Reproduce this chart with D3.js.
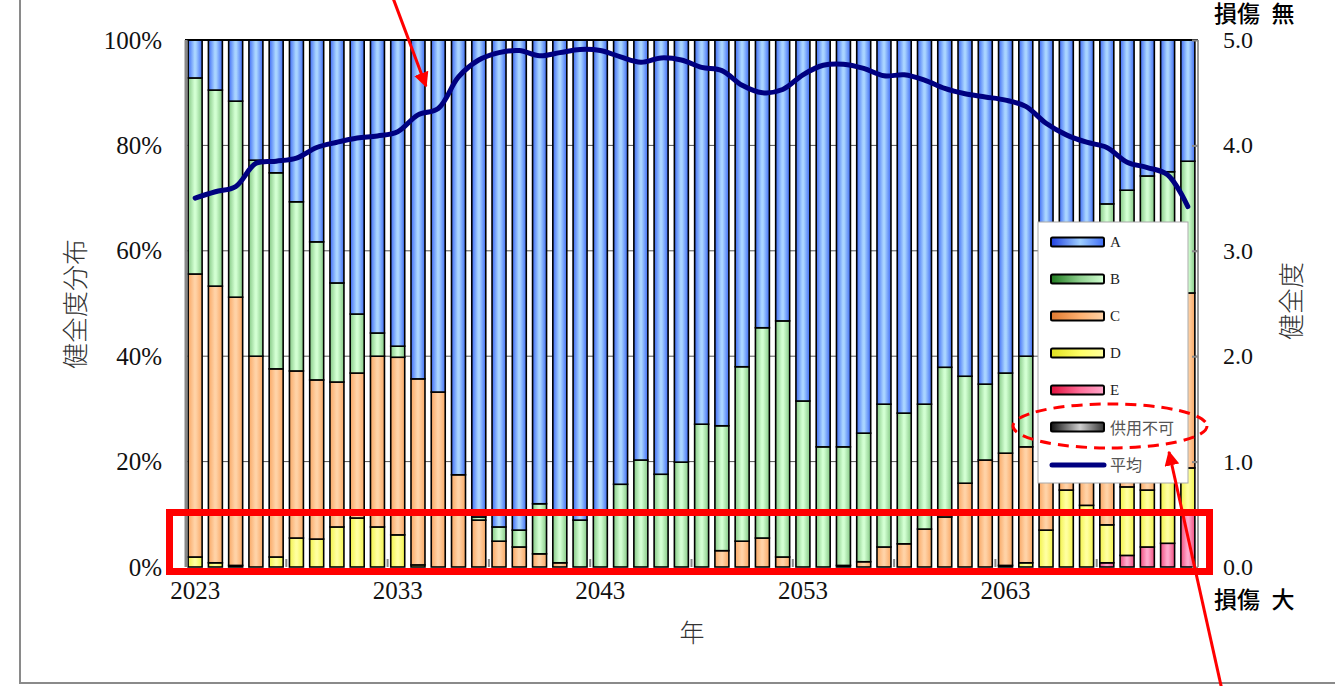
<!DOCTYPE html>
<html>
<head>
<meta charset="UTF-8">
<script src="https://cdn.jsdelivr.net/npm/d3@7"></script>
<style>
  body { margin: 0; background: #fff; }
  svg { display: block; }
</style>
</head>
<body>
<div id="chart"></div>
<script>
// ---- data (percent of bridges per health grade, bottom grades first in stack) ----
const years = d3.range(2023, 2073)
const seriesA = [7.2, 9.5, 11.6, 22.8, 25.2, 30.7, 38.3, 46.1, 52.0, 55.6, 58.1, 64.3, 66.8, 82.5, 90.5, 92.4, 93.0, 88.0, 89.2, 91.1,
                 90.0, 84.3, 79.7, 82.4, 80.1, 72.9, 73.2, 62.0, 54.6, 53.3, 68.5, 77.2, 77.2, 74.6, 69.1, 70.8, 69.1, 62.1, 63.8, 65.3,
                 63.2, 60.0, 52.0, 48.6, 39.7, 31.1, 28.5, 25.8, 25.0, 23.0]
const seriesB = [37.2, 37.2, 37.2, 37.2, 37.2, 32.1, 26.2, 18.8, 11.2, 4.4, 2.1, 0, 0, 0, 0.6, 2.7, 3.2, 9.5, 10.0, 8.9,
                 10.0, 15.7, 20.3, 17.6, 19.9, 27.1, 23.7, 33.1, 39.9, 44.8, 31.5, 22.8, 22.5, 24.4, 27.1, 24.8, 23.7, 28.4, 20.3, 14.4,
                 15.2, 17.2, 24.0, 27.4, 35.3, 44.6, 44.4, 45.8, 44.5, 25.0]
const seriesC = [53.7, 52.5, 50.9, 40.0, 35.7, 31.7, 30.2, 27.5, 27.5, 32.4, 33.7, 35.3, 33.2, 17.5, 8.9, 4.9, 3.8, 2.5, 0.8, 0,
                 0, 0, 0, 0, 0, 0, 3.1, 4.9, 5.5, 1.9, 0, 0, 0.3, 1.0, 3.8, 4.4, 7.2, 9.5, 15.9, 20.3,
                 21.3, 22.0, 17.0, 9.4, 13.3, 16.3, 11.9, 13.8, 12.5, 33.2]
const seriesD = [1.9, 0.8, 0.3, 0, 1.9, 5.5, 5.3, 7.6, 9.3, 7.6, 6.1, 0.4, 0, 0, 0, 0, 0, 0, 0, 0,
                 0, 0, 0, 0, 0, 0, 0, 0, 0, 0, 0, 0, 0, 0, 0, 0, 0, 0, 0, 0,
                 0.3, 0.8, 7.0, 14.6, 11.7, 7.2, 13.0, 10.8, 13.5, 8.3]
const seriesE = [0, 0, 0, 0, 0, 0, 0, 0, 0, 0, 0, 0, 0, 0, 0, 0, 0, 0, 0, 0,
                 0, 0, 0, 0, 0, 0, 0, 0, 0, 0, 0, 0, 0, 0, 0, 0, 0, 0, 0, 0,
                 0, 0, 0, 0, 0, 0.8, 2.2, 3.8, 4.5, 10.5]
const seriesX = years.map(() => 0)   // 供用不可
const average = [3.50, 3.56, 3.61, 3.83, 3.85, 3.88, 3.98, 4.03, 4.07, 4.09, 4.13, 4.29, 4.35, 4.65, 4.81, 4.88, 4.90, 4.85, 4.88, 4.91,
                 4.90, 4.84, 4.79, 4.83, 4.81, 4.74, 4.71, 4.57, 4.50, 4.53, 4.67, 4.76, 4.77, 4.73, 4.66, 4.67, 4.62, 4.54, 4.49, 4.46,
                 4.43, 4.37, 4.21, 4.10, 4.03, 3.98, 3.84, 3.79, 3.72, 3.42]
const xTickYears = [2023, 2033, 2043, 2053, 2063]
const pctTicks = [0, 20, 40, 60, 80, 100]
const scoreTicks = [0, 1, 2, 3, 4, 5]

const keys = ["X", "E", "D", "C", "B", "A"]
const legendItems = ["A", "B", "C", "D", "E", "供用不可", "平均"]
const legendKey = {"A": "A", "B": "B", "C": "C", "D": "D", "E": "E", "供用不可": "X"}

// gradient colours [edge, centre]
const colors = {
    A: ["#3f6cf5", "#a9d4ff"],
    B: ["#86c986", "#d2ffd2"],
    C: ["#f9a865", "#ffd2a6"],
    D: ["#f2f24a", "#ffff9e"],
    E: ["#f0507f", "#ffa8cc"],
    X: ["#333333", "#d8d8d8"]
}
const legendColors = {
    A: ["#1f3fe0", "#9fcfff", "#3f6cf5"],
    B: ["#1e7a1e", "#8fd08f", "#d2ffd2"],
    C: ["#e07a30", "#ffb070", "#ffd2a6"],
    D: ["#e0e020", "#ffff66", "#ffff9e"],
    E: ["#e0103c", "#ff6f9a", "#ffa8cc"],
    X: ["#111111", "#cfcfcf", "#333333"]
}

const rows = years.map((yr, i) => ({
    year: yr, A: seriesA[i], B: seriesB[i], C: seriesC[i], D: seriesD[i], E: seriesE[i], X: seriesX[i]
}))

const W = 1335, H = 686
const plotLeft = 185, plotRight = 1198, plotTop = 40, plotBottom = 567
const serif = "'Liberation Serif', 'Times New Roman', serif"
const jp = "'Noto Sans CJK JP', sans-serif"

const svg = d3.select("#chart").append("svg")
    .attr("width", W).attr("height", H)
    .style("font-family", serif)

const defs = svg.append("defs")
keys.forEach(k => {
    const g = defs.append("linearGradient").attr("id", "bar" + k)
        .attr("x1", 0).attr("x2", 1).attr("y1", 0).attr("y2", 0)
    g.append("stop").attr("offset", "0%").attr("stop-color", colors[k][0])
    g.append("stop").attr("offset", "45%").attr("stop-color", colors[k][1])
    g.append("stop").attr("offset", "55%").attr("stop-color", colors[k][1])
    g.append("stop").attr("offset", "100%").attr("stop-color", colors[k][0])

    const lg = defs.append("linearGradient").attr("id", "leg" + k)
        .attr("x1", 0).attr("x2", 1).attr("y1", 0).attr("y2", 0)
    lg.append("stop").attr("offset", "0%").attr("stop-color", legendColors[k][0])
    lg.append("stop").attr("offset", "55%").attr("stop-color", legendColors[k][1])
    lg.append("stop").attr("offset", "100%").attr("stop-color", legendColors[k][2])
})
defs.append("marker").attr("id", "arrow")
    .attr("viewBox", "0 0 10 10").attr("refX", 9).attr("refY", 5)
    .attr("markerWidth", 5).attr("markerHeight", 5).attr("markerUnits", "strokeWidth")
    .attr("orient", "auto")
    .append("path").attr("d", "M0,0 L10,5 L0,10 z").attr("fill", "#ff0000")

// outer frame (partly visible in the screenshot)
svg.append("path").attr("d", `M20,0 V683 H${W}`)
    .attr("fill", "none").attr("stroke", "#8a8a8a").attr("stroke-width", 2)

const x = d3.scaleBand().domain(years).range([plotLeft, plotRight]).paddingInner(0.31).paddingOuter(0.155)
const y = d3.scaleLinear().domain([0, 100]).range([plotBottom, plotTop])
const y2 = d3.scaleLinear().domain([0, 5]).range([plotBottom, plotTop])

// gridlines
svg.append("g")
    .selectAll("line").data(pctTicks.filter(t => t > 0 && t < 100)).join("line")
    .attr("x1", plotLeft).attr("x2", plotRight)
    .attr("y1", d => y(d)).attr("y2", d => y(d))
    .attr("stroke", "#555").attr("stroke-width", 1)

// stacked bars
const stacked = d3.stack().keys(keys)(rows)
svg.append("g").selectAll("g").data(stacked).join("g")
    .attr("fill", d => `url(#bar${d.key})`)
    .selectAll("rect").data(d => d.filter(p => p[1] - p[0] > 0)).join("rect")
    .attr("x", d => x(d.data.year))
    .attr("width", x.bandwidth())
    .attr("y", d => y(d[1]))
    .attr("height", d => y(d[0]) - y(d[1]))
    .attr("stroke", "#000").attr("stroke-width", 1.6)

// frame of plot area
svg.append("line").attr("x1", plotLeft).attr("x2", plotRight).attr("y1", plotTop).attr("y2", plotTop)
    .attr("stroke", "#000").attr("stroke-width", 2)
svg.append("line").attr("x1", plotLeft + 1).attr("x2", plotLeft + 1).attr("y1", plotTop).attr("y2", plotBottom)
    .attr("stroke", "#888").attr("stroke-width", 3)
svg.append("line").attr("x1", plotRight).attr("x2", plotRight).attr("y1", plotTop).attr("y2", plotBottom)
    .attr("stroke", "#999").attr("stroke-width", 2)

// left axis
const yAxis = svg.append("g")
    .attr("transform", `translate(${plotLeft},0)`)
    .call(d3.axisLeft(y).tickValues(pctTicks).tickFormat(d => d + "%").tickSize(0).tickPadding(23))
yAxis.select(".domain").remove()
yAxis.selectAll("text").attr("font-size", 25).attr("fill", "#111")
    .attr("font-family", serif)

// right axis
const y2Axis = svg.append("g")
    .attr("transform", `translate(${plotRight},0)`)
    .call(d3.axisLeft(y2).tickValues(scoreTicks).tickSize(6).tickFormat(() => ""))
y2Axis.select(".domain").remove()
y2Axis.selectAll("line").attr("stroke", "#888").attr("stroke-width", 2)
svg.append("g").selectAll("text").data(scoreTicks).join("text")
    .attr("x", 1223).attr("y", d => y2(d)).attr("dy", "0.33em")
    .attr("font-size", 24).attr("fill", "#111")
    .text(d => d3.format(".1f")(d))

// bottom axis: labels every 10 years, small inside ticks every 5 bars
const xAxis = svg.append("g")
    .attr("transform", `translate(0,${plotBottom})`)
    .call(d3.axisBottom(x).tickValues(xTickYears).tickSize(0).tickPadding(14))
xAxis.select(".domain").remove()
xAxis.selectAll("text").attr("font-size", 25).attr("fill", "#111")
    .attr("font-family", serif)
svg.append("g").selectAll("line")
    .data(years.filter((d, i) => i > 0 && i % 5 === 0)).join("line")
    .attr("x1", d => x(d) - (x.step() - x.bandwidth()) / 2)
    .attr("x2", d => x(d) - (x.step() - x.bandwidth()) / 2)
    .attr("y1", plotBottom).attr("y2", plotBottom - 8)
    .attr("stroke", "#888").attr("stroke-width", 2)

// average line
const line = d3.line()
    .x((d, i) => x(years[i]) + x.bandwidth() / 2)
    .y(d => y2(d))
    .curve(d3.curveCatmullRom.alpha(0.5))
svg.append("path").datum(average)
    .attr("d", line)
    .attr("fill", "none").attr("stroke", "#000080").attr("stroke-width", 5)
    .attr("stroke-linejoin", "round").attr("stroke-linecap", "round")

// axis titles
svg.append("text").attr("transform", "translate(85,304) rotate(-90)")
    .attr("text-anchor", "middle").attr("font-family", jp).attr("font-size", 26)
    .attr("font-weight", 300).attr("fill", "#333").text("健全度分布")
svg.append("text").attr("transform", "translate(1301,301) rotate(-90)")
    .attr("text-anchor", "middle").attr("font-family", jp).attr("font-size", 26)
    .attr("font-weight", 300).attr("fill", "#333").text("健全度")
svg.append("text").attr("x", 692).attr("y", 642)
    .attr("text-anchor", "middle").attr("font-family", jp).attr("font-size", 25)
    .attr("font-weight", 300).attr("fill", "#333").text("年")
svg.append("text").attr("x", 1214).attr("y", 22)
    .attr("font-family", jp).attr("font-size", 23).attr("font-weight", 500)
    .attr("fill", "#000").text("損傷\u2002無")
svg.append("text").attr("x", 1214).attr("y", 608)
    .attr("font-family", jp).attr("font-size", 23).attr("font-weight", 500)
    .attr("fill", "#000").text("損傷\u2002大")

// legend
const legend = svg.append("g")
legend.append("rect").attr("x", 1038).attr("y", 222).attr("width", 150).attr("height", 261)
    .attr("fill", "#fff").attr("stroke", "#aaa").attr("stroke-width", 1)
const items = legend.selectAll("g.item").data(legendItems).join("g")
    .attr("transform", (d, i) => `translate(1051,${242 + i * 37})`)
items.filter(d => d !== "平均").append("rect")
    .attr("x", 0).attr("y", -4.5).attr("width", 53).attr("height", 9).attr("rx", 1.5)
    .attr("fill", d => `url(#leg${legendKey[d]})`)
    .attr("stroke", "#000").attr("stroke-width", 2)
items.filter(d => d === "平均").append("line")
    .attr("x1", 1).attr("x2", 53).attr("y1", 1).attr("y2", 1)
    .attr("stroke", "#000080").attr("stroke-width", 5).attr("stroke-linecap", "round")
items.append("text")
    .attr("x", 59).attr("y", d => d.length > 1 ? 1 : 0).attr("dy", "0.35em")
    .attr("font-size", d => d.length > 1 ? 16 : 15)
    .attr("font-family", d => d.length > 1 ? jp : serif)
    .attr("fill", d => d.length > 1 ? "#555" : "#222")
    .text(d => d)

// red annotations
const ann = svg.append("g").attr("fill", "none").attr("stroke", "#ff0000")
ann.append("rect").attr("x", 169.5).attr("y", 512.5).attr("width", 1040).attr("height", 59)
    .attr("stroke-width", 7)
ann.append("ellipse").attr("cx", 1110).attr("cy", 426).attr("rx", 97).attr("ry", 22)
    .attr("stroke-width", 3).attr("stroke-dasharray", "11,7")
ann.append("line").attr("x1", 393).attr("y1", -2).attr("x2", 426).attr("y2", 86)
    .attr("stroke-width", 3).attr("marker-end", "url(#arrow)")
ann.append("line").attr("x1", 1222).attr("y1", 690).attr("x2", 1169).attr("y2", 452)
    .attr("stroke-width", 3).attr("marker-end", "url(#arrow)")
</script>
</body>
</html>
